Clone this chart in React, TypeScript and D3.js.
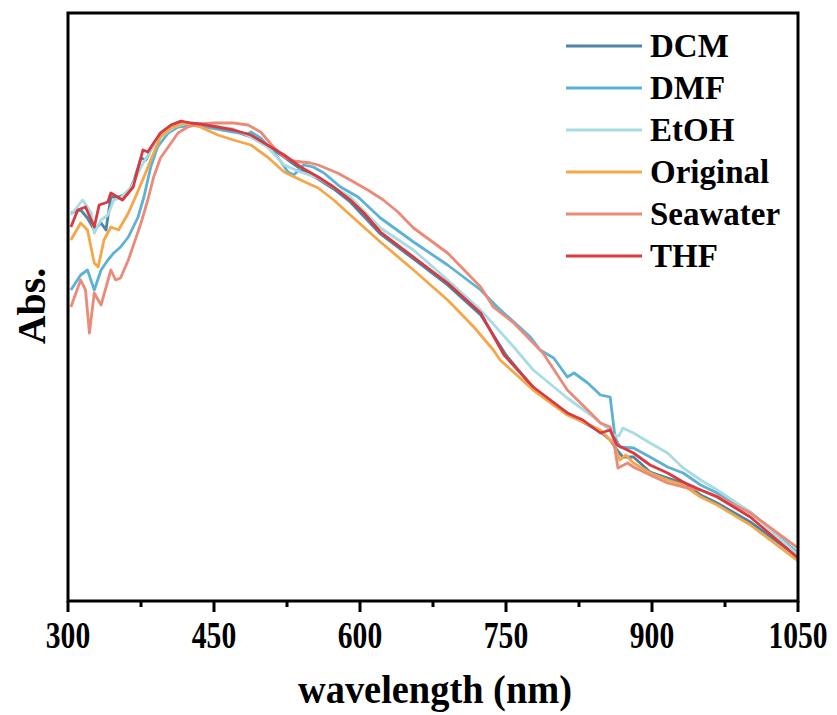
import React from "react";
import * as d3 from "d3";

// Wavelength grid (nm) and absorbance for each solvent
const dcmNm = [303, 313, 320, 327, 334, 339, 344, 352, 362, 368, 375, 380, 385, 395, 406, 416, 436, 470, 488, 505, 522, 539, 557, 573, 590, 621, 655, 690, 724, 750, 778, 813, 847, 857, 864, 870, 881, 898, 916, 932, 950, 967, 1001, 1050];
const dcmAbs = [0.388, 0.391, 0.383, 0.371, 0.378, 0.371, 0.404, 0.404, 0.408, 0.421, 0.443, 0.441, 0.451, 0.468, 0.476, 0.479, 0.476, 0.470, 0.464, 0.455, 0.444, 0.432, 0.422, 0.412, 0.399, 0.367, 0.342, 0.316, 0.286, 0.246, 0.213, 0.188, 0.169, 0.161, 0.151, 0.144, 0.144, 0.129, 0.123, 0.118, 0.106, 0.098, 0.079, 0.044];

const dmfNm = [303, 313, 320, 327, 334, 341, 347, 354, 362, 372, 378, 385, 392, 403, 413, 429, 436, 470, 484, 488, 498, 516, 526, 532, 542, 552, 563, 580, 598, 621, 655, 690, 724, 741, 775, 785, 799, 813, 820, 834, 847, 857, 862, 867, 881, 898, 916, 932, 950, 967, 1001, 1050];
const dmfAbs = [0.311, 0.326, 0.331, 0.311, 0.331, 0.341, 0.348, 0.354, 0.364, 0.384, 0.404, 0.434, 0.454, 0.468, 0.474, 0.476, 0.475, 0.469, 0.467, 0.469, 0.463, 0.443, 0.429, 0.426, 0.436, 0.434, 0.428, 0.414, 0.404, 0.383, 0.359, 0.336, 0.311, 0.294, 0.264, 0.251, 0.243, 0.224, 0.228, 0.218, 0.206, 0.204, 0.164, 0.154, 0.153, 0.144, 0.134, 0.128, 0.116, 0.108, 0.089, 0.048];

const etohNm = [303, 315, 324, 327, 334, 341, 347, 354, 365, 375, 385, 395, 409, 423, 436, 470, 488, 505, 522, 539, 557, 590, 621, 655, 690, 724, 758, 778, 813, 837, 854, 860, 866, 870, 881, 898, 916, 932, 950, 967, 1001, 1050];
const etohAbs = [0.386, 0.401, 0.388, 0.368, 0.381, 0.386, 0.401, 0.403, 0.414, 0.434, 0.451, 0.464, 0.474, 0.478, 0.477, 0.472, 0.464, 0.454, 0.436, 0.429, 0.423, 0.404, 0.373, 0.351, 0.321, 0.291, 0.254, 0.231, 0.203, 0.186, 0.173, 0.166, 0.165, 0.173, 0.168, 0.158, 0.148, 0.133, 0.121, 0.111, 0.089, 0.046];

const originalNm = [303, 313, 320, 327, 331, 337, 344, 352, 362, 368, 378, 385, 395, 406, 419, 436, 454, 470, 488, 505, 522, 539, 557, 573, 590, 621, 655, 690, 717, 737, 744, 778, 813, 847, 860, 867, 873, 881, 898, 916, 932, 950, 967, 1001, 1050];
const originalAbs = [0.361, 0.378, 0.371, 0.338, 0.334, 0.361, 0.374, 0.371, 0.388, 0.401, 0.424, 0.441, 0.464, 0.473, 0.478, 0.474, 0.466, 0.461, 0.456, 0.444, 0.429, 0.421, 0.413, 0.401, 0.386, 0.359, 0.331, 0.301, 0.274, 0.251, 0.241, 0.211, 0.186, 0.171, 0.158, 0.141, 0.146, 0.138, 0.128, 0.121, 0.116, 0.104, 0.096, 0.076, 0.040];

const seawaterNm = [303, 313, 318, 322, 327, 331, 334, 344, 349, 354, 362, 368, 375, 382, 388, 395, 403, 413, 423, 436, 450, 470, 485, 498, 511, 522, 532, 549, 557, 577, 590, 608, 624, 639, 655, 690, 724, 737, 758, 775, 788, 813, 837, 847, 857, 860, 865, 875, 881, 898, 916, 932, 950, 967, 1001, 1050];
const seawaterAbs = [0.294, 0.321, 0.311, 0.268, 0.308, 0.301, 0.296, 0.331, 0.321, 0.323, 0.341, 0.358, 0.378, 0.401, 0.424, 0.443, 0.454, 0.468, 0.474, 0.477, 0.478, 0.478, 0.476, 0.469, 0.454, 0.444, 0.440, 0.438, 0.436, 0.428, 0.421, 0.411, 0.401, 0.389, 0.373, 0.348, 0.314, 0.294, 0.278, 0.261, 0.248, 0.211, 0.188, 0.178, 0.174, 0.164, 0.133, 0.138, 0.134, 0.126, 0.118, 0.114, 0.111, 0.105, 0.088, 0.053];

const thfNm = [303, 310, 318, 327, 332, 341, 344, 356, 367, 377, 382, 388, 395, 406, 416, 426, 436, 470, 488, 505, 522, 539, 557, 573, 590, 604, 621, 655, 690, 724, 748, 778, 813, 829, 847, 857, 864, 881, 898, 916, 932, 950, 967, 1001, 1050];
const thfAbs = [0.374, 0.391, 0.394, 0.374, 0.396, 0.399, 0.408, 0.401, 0.414, 0.451, 0.449, 0.458, 0.468, 0.476, 0.480, 0.478, 0.477, 0.471, 0.466, 0.456, 0.446, 0.434, 0.424, 0.414, 0.401, 0.388, 0.369, 0.344, 0.318, 0.288, 0.246, 0.214, 0.188, 0.181, 0.168, 0.171, 0.156, 0.148, 0.136, 0.128, 0.119, 0.111, 0.104, 0.084, 0.043];

const seriesNames = ["DCM", "DMF", "EtOH", "Original", "Seawater", "THF"];
const seriesColors = ["#4a86a8", "#5cb2d3", "#a8dce2", "#f5a748", "#ea8a78", "#d9393f"];
const seriesNm = [dcmNm, dmfNm, etohNm, originalNm, seawaterNm, thfNm];
const seriesAbs = [dcmAbs, dmfAbs, etohAbs, originalAbs, seawaterAbs, thfAbs];

const majorTicks = [300, 450, 600, 750, 900, 1050];
const minorTicks = [375, 525, 675, 825, 975];

const W = 837;
const H = 715;
const FONT = '"Liberation Serif", "Times New Roman", serif';

export default function App() {
  const left = 68;
  const right = 798;
  const top = 13;
  const bottom = 601;

  const x = d3.scaleLinear().domain([300, 1050]).range([left, right]);
  const y = d3.scaleLinear().domain([0, 0.588]).range([bottom, top]);

  const line = d3
    .line<[number, number]>()
    .x((d) => x(d[0]))
    .y((d) => y(d[1]));

  return (
    <svg
      width={W}
      height={H}
      style={{ position: "absolute", left: 0, top: 0, background: "#fff" }}
      fontFamily={FONT}
    >
      <defs>
        <clipPath id="plot">
          <rect x={left} y={top} width={right - left} height={bottom - top} />
        </clipPath>
      </defs>

      {/* spectra */}
      <g clipPath="url(#plot)">
        {seriesNames.map((name, i) => {
          const pts = seriesNm[i].map((nm, j) => [nm, seriesAbs[i][j]] as [number, number]);
          return (
            <path
              key={name}
              d={line(pts) || ""}
              fill="none"
              stroke={seriesColors[i]}
              strokeWidth={2.8}
              strokeLinejoin="round"
            />
          );
        })}
      </g>

      {/* frame */}
      <rect
        x={left}
        y={top}
        width={right - left}
        height={bottom - top}
        fill="none"
        stroke="#000"
        strokeWidth={3}
      />

      {/* x ticks */}
      {majorTicks.map((t) => (
        <line key={"M" + t} x1={x(t)} x2={x(t)} y1={bottom} y2={bottom + 11} stroke="#000" strokeWidth={3} />
      ))}
      {minorTicks.map((t) => (
        <line key={"m" + t} x1={x(t)} x2={x(t)} y1={bottom} y2={bottom + 6} stroke="#000" strokeWidth={3} />
      ))}
      {majorTicks.map((t) => (
        <text
          key={"L" + t}
          transform={`translate(${x(t)}, 648) scale(0.8, 1)`}
          textAnchor="middle"
          fontSize={37}
          fontWeight="bold"
        >
          {t}
        </text>
      ))}

      {/* axis titles */}
      <text
        transform={`translate(${(left + right) / 2 + 2}, 703) scale(0.96, 1)`}
        textAnchor="middle"
        fontSize={40}
        fontWeight="bold"
      >
        wavelength (nm)
      </text>
      <text
        transform={`translate(45, 306) rotate(-90)`}
        textAnchor="middle"
        fontSize={40}
        fontWeight="bold"
      >
        Abs.
      </text>

      {/* legend */}
      {seriesNames.map((name, i) => {
        const ly = 46 + i * 42;
        return (
          <g key={"leg" + name}>
            <line x1={566} x2={642} y1={ly} y2={ly} stroke={seriesColors[i]} strokeWidth={2.8} />
            <text x={650} y={ly + 11} fontSize={33} fontWeight="bold">
              {name}
            </text>
          </g>
        );
      })}
    </svg>
  );
}
